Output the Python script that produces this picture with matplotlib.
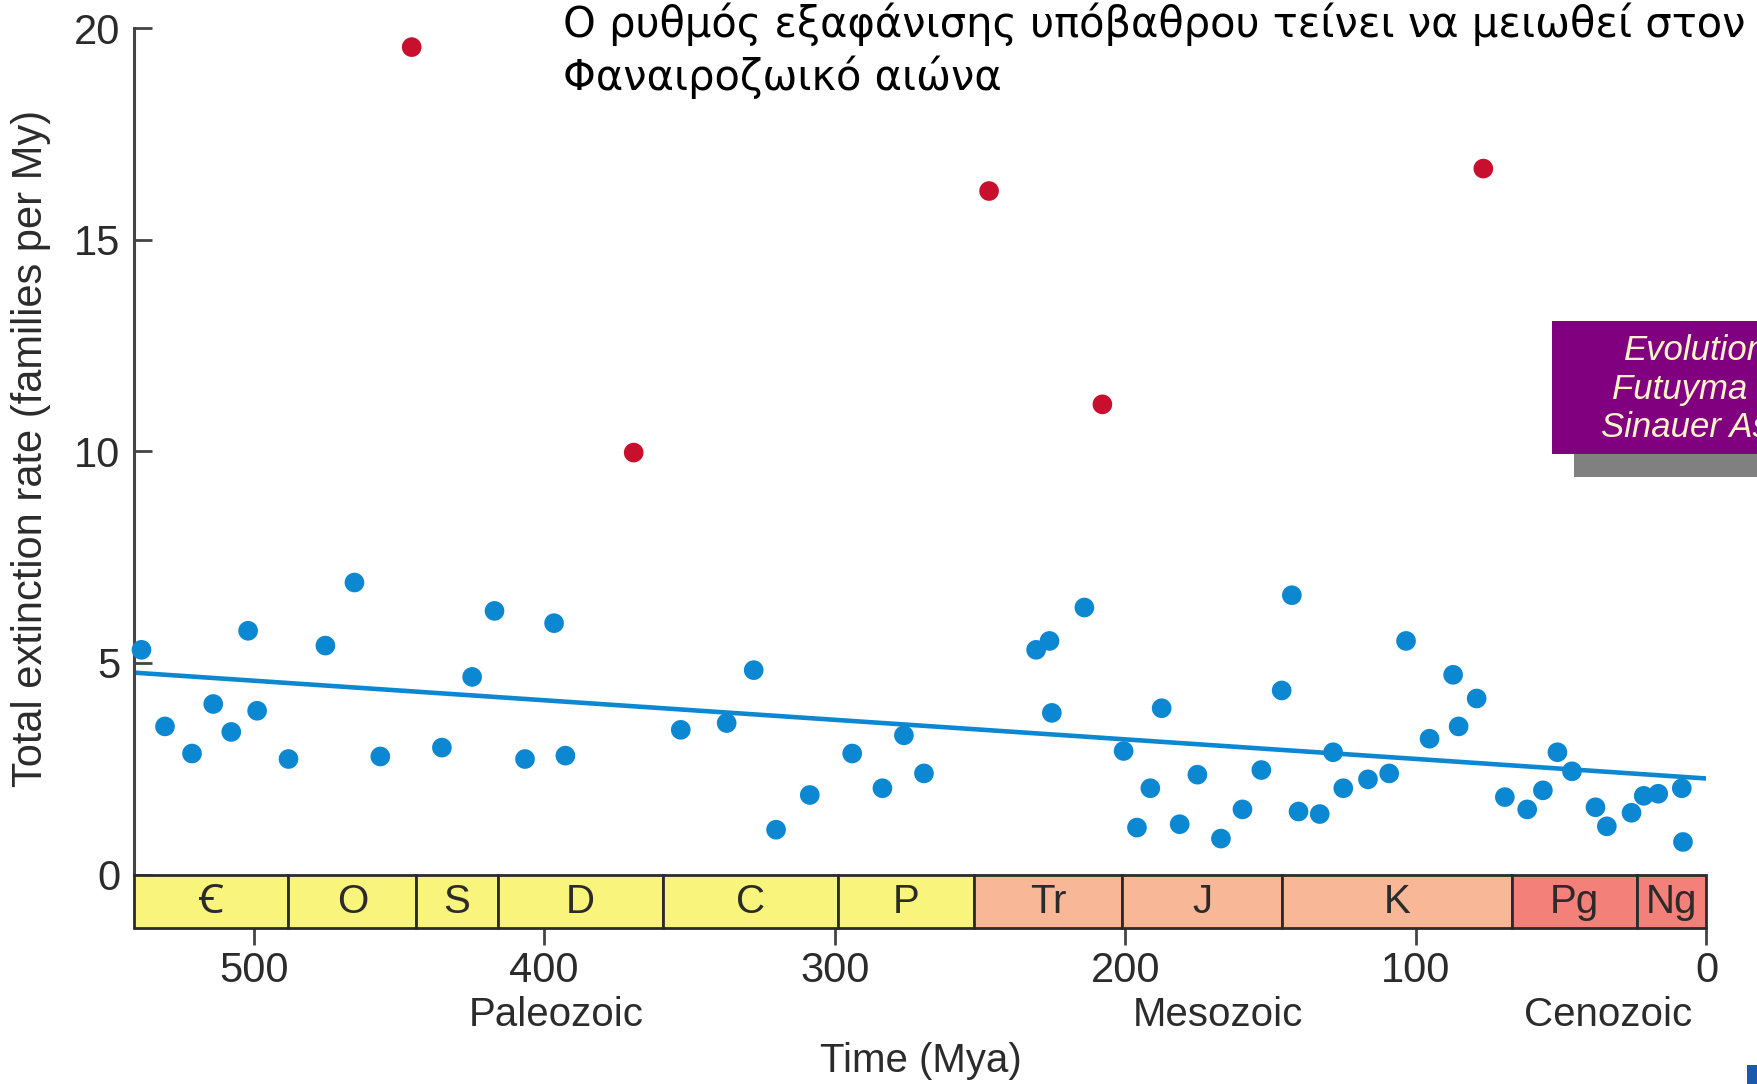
import matplotlib

matplotlib.use("Agg")
import matplotlib.pyplot as plt
from matplotlib.patches import Rectangle

plt.rcParams["font.family"] = ["Liberation Sans", "Noto Sans", "DejaVu Sans"]

# background extinction rates (blue) and mass extinctions (red), Mya / families per My
bg_mya = [538.6, 530.5, 521.2, 513.9, 507.7, 501.9, 498.8, 488.0, 475.3, 465.3,
          456.4, 435.2, 424.8, 417.1, 406.6, 396.6, 392.7, 353.0, 337.2, 327.9,
          320.2, 308.6, 294.0, 283.6, 276.2, 269.3, 230.7, 226.1, 225.3, 214.1,
          200.6, 196.0, 191.4, 187.5, 181.3, 175.2, 167.1, 159.7, 153.2, 146.2,
          142.7, 140.4, 133.1, 128.5, 125.0, 116.5, 109.2, 103.4, 95.3, 87.2,
          85.3, 79.1, 69.4, 61.7, 56.3, 51.3, 46.3, 38.2, 34.3, 25.8,
          21.6, 16.6, 8.5, 8.1]
bg_rate = [5.31, 3.50, 2.86, 4.03, 3.37, 5.76, 3.87, 2.73, 5.41, 6.90,
           2.79, 3.00, 4.67, 6.23, 2.73, 5.94, 2.81, 3.42, 3.58, 4.83,
           1.06, 1.88, 2.86, 2.04, 3.29, 2.39, 5.31, 5.52, 3.82, 6.31,
           2.92, 1.11, 2.04, 3.93, 1.19, 2.36, 0.85, 1.54, 2.47, 4.35,
           6.60, 1.49, 1.43, 2.89, 2.04, 2.25, 2.39, 5.52, 3.21, 4.72,
           3.50, 4.16, 1.83, 1.54, 1.99, 2.89, 2.44, 1.59, 1.14, 1.46,
           1.86, 1.91, 2.04, 0.77]
mass_mya = [445.6, 369.2, 246.9, 207.9, 76.8]
mass_rate = [19.55, 9.97, 16.15, 11.11, 16.68]
trend_mya = [541, 0]
trend_rate = [4.77, 2.27]

# geological periods
period_labels = ["\uA792", "O", "S", "D", "C", "P", "Tr", "J", "K", "Pg", "Ng"]
period_edges = [541, 488, 444, 416, 359, 299, 252, 201, 146, 67, 24, 0]
period_era = ["P", "P", "P", "P", "P", "P", "M", "M", "M", "C", "C"]
era_names = ["Paleozoic", "Mesozoic", "Cenozoic"]
era_centers = [396, 168, 34]

era_colors = {"P": "#f9f47b", "M": "#f8b797", "C": "#f4807a"}
blue = "#0c87d2"
red = "#c8102e"
dark = "#2b2b2b"

fig = plt.figure(figsize=(17.58, 10.84), dpi=100)
ax = fig.add_axes([0.0765, 0.1435, 0.8942, 0.8306])
bar_h = 1.273
ax.set_xlim(541, 0)
ax.set_ylim(-bar_h, 20)

ax.plot(trend_mya, trend_rate, color=blue, lw=3.3, zorder=2, solid_capstyle="butt")
ax.scatter(bg_mya, bg_rate, s=200, color=blue, edgecolors="none", zorder=3, clip_on=False)
ax.scatter(mass_mya, mass_rate, s=200, color=red, edgecolors="none", zorder=3, clip_on=False)

# time scale bar
for lab, start, end, era in zip(period_labels, period_edges[:-1], period_edges[1:], period_era):
    ax.add_patch(Rectangle((end, -bar_h), start - end, bar_h, facecolor=era_colors[era],
                           edgecolor=dark, lw=2, zorder=4, clip_on=False))
    ax.text((start + end) / 2, -bar_h / 2, lab, ha="center", va="center",
            fontsize=29, color=dark, zorder=5)

for name, xc in zip(era_names, era_centers):
    ax.annotate(name, xy=(xc, 1 - 1015 / 1084), xycoords=("data", "figure fraction"),
                ha="center", va="center", fontsize=29, color=dark)

for side in ["top", "right", "bottom"]:
    ax.spines[side].set_visible(False)
ax.spines["left"].set_bounds(0, 20)
ax.spines["left"].set_color("#444444")
ax.spines["left"].set_linewidth(2.2)

ax.set_yticks([0, 5, 10, 15, 20])
ax.set_xticks([500, 400, 300, 200, 100, 0])
ax.tick_params(axis="y", direction="in", length=13, width=2, color="#444444",
               labelsize=30, labelcolor=dark, pad=10)
ax.tick_params(axis="x", direction="out", length=12, width=2, color="#444444",
               labelsize=30, labelcolor=dark, pad=4)

ax.set_xlabel("Time (Mya)", fontsize=29, color=dark)
ax.xaxis.set_label_coords(0.5, -0.147)
ax.xaxis.label.set_va("center")
ax.set_ylabel("Total extinction rate (families per My)", fontsize=30, color=dark)
ax.yaxis.set_label_coords(-0.0656, 0.533)
ax.yaxis.label.set_va("center")

# Greek title
fig.text(563 / 1758, 1 - 37 / 1084, "Ο ρυθμός εξαφάνισης υπόβαθρου τείνει να μειωθεί στον",
         fontsize=30, family="DejaVu Sans", va="baseline", ha="left", color="black")
fig.text(563 / 1758, 1 - 90 / 1084, "Φαναιροζωικό αιώνα",
         fontsize=30, family="DejaVu Sans", va="baseline", ha="left", color="black")

# source box at the right edge
fig.add_artist(Rectangle((1574 / 1758, 1 - 476.5 / 1084), 0.2, 22.5 / 1084,
                         transform=fig.transFigure, facecolor="#808080", edgecolor="none"))
fig.add_artist(Rectangle((1552 / 1758, 1 - 454 / 1084), 0.2, 133 / 1084,
                         transform=fig.transFigure, facecolor="#800080", edgecolor="none"))
box_lines = ["Evolution", "Futuyma & Kirkpatrick", "Sinauer Associates"]
box_x = [1624, 1612, 1601]
box_y = [360, 399, 437]
for txt, bx, by in zip(box_lines, box_x, box_y):
    fig.text(bx / 1758, 1 - by / 1084, txt, fontsize=25, style="italic",
             color="#fff5c8", ha="left", va="baseline")

fig.add_artist(Rectangle((1747 / 1758, 0), 0.01, 19 / 1084,
                         transform=fig.transFigure, facecolor="#1a5aa8", edgecolor="none"))

fig.savefig("out.png", dpi=100, facecolor="white")
